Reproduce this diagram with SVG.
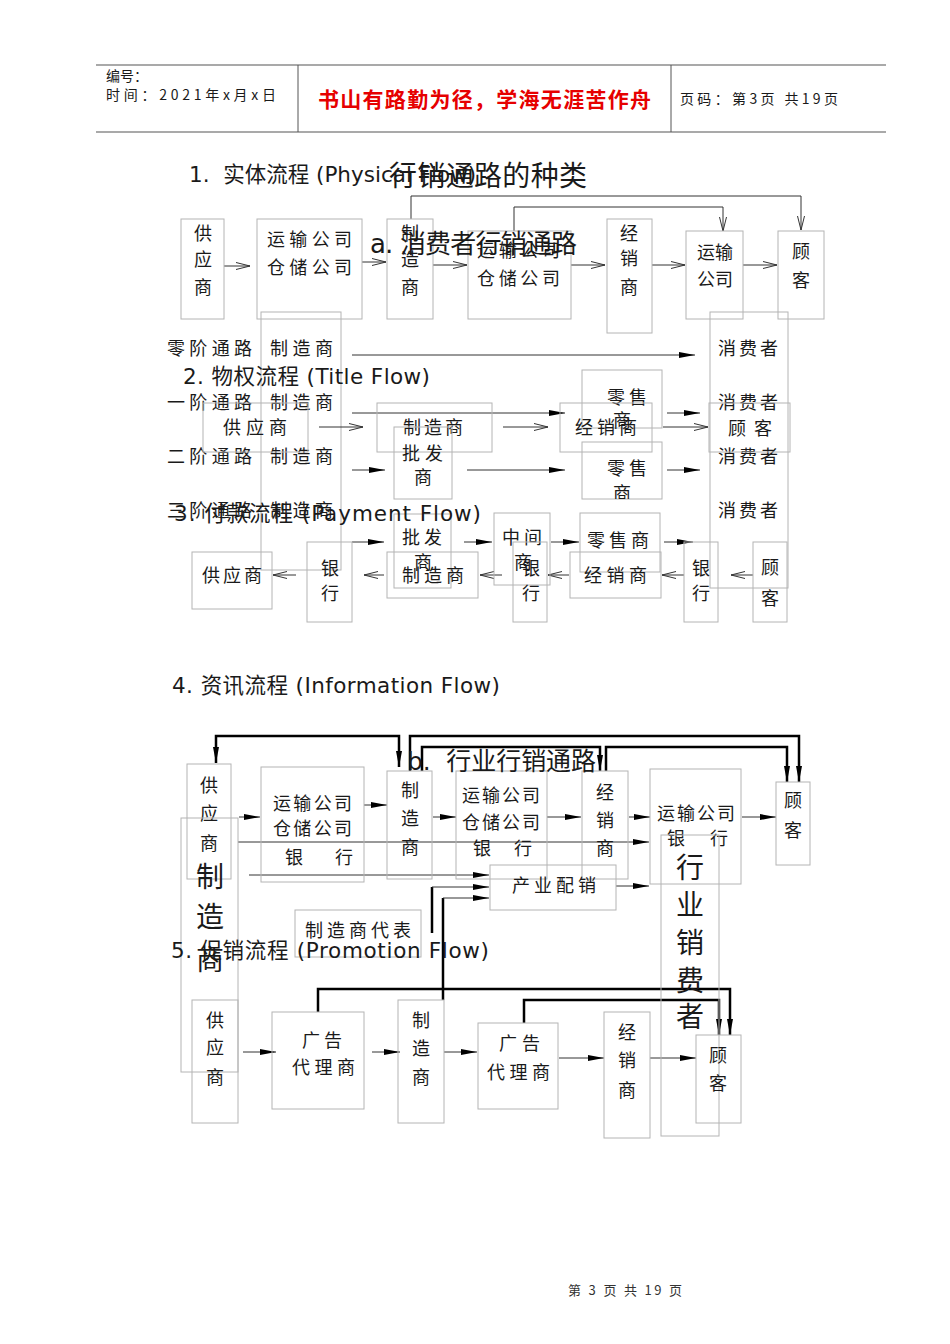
<svg xmlns="http://www.w3.org/2000/svg" width="950" height="1344" viewBox="0 0 950 1344">
<style>
.bx{fill:none;stroke:#b4b4b4;stroke-width:1}
.cj{font-family:"Noto Sans CJK SC","Noto Sans CJK JP",sans-serif;fill:#1a1a1a;font-size:18px}
.m{text-anchor:middle}
.hd{font-family:"DejaVu Sans","Noto Sans CJK SC",sans-serif;fill:#1a1a1a;font-size:21.5px}
.ln{fill:none;stroke:#333;stroke-width:1}
.tk{fill:none;stroke:#000;stroke-width:2.5}
.big{font-size:28px}
</style>
<defs>
<marker id="o" viewBox="0 0 14 8" refX="14" refY="4" markerWidth="14" markerHeight="8" markerUnits="userSpaceOnUse" orient="auto"><path d="M0,0.5 L14,4 L0,7.5" fill="none" stroke="#333" stroke-width="1"/></marker>
<marker id="f" viewBox="0 0 16 8" refX="16" refY="4" markerWidth="16" markerHeight="8" markerUnits="userSpaceOnUse" orient="auto-start-reverse"><path d="M0,1 L16,4 L0,7 Z" fill="#000"/></marker>
<clipPath id="c1"><rect x="582" y="442" width="80" height="57"/></clipPath>
</defs>
<rect width="950" height="1344" fill="#fff"/>

<g id="header">
<line x1="96" y1="65" x2="886" y2="65" stroke="#555" stroke-width="1.2"/>
<line x1="96" y1="132" x2="886" y2="132" stroke="#555" stroke-width="1.2"/>
<line x1="298" y1="65" x2="298" y2="132" stroke="#555"/>
<line x1="671" y1="65" x2="671" y2="132" stroke="#555"/>
<text x="106" y="81" class="cj" style="font-size:14px">编号：</text>
<text x="106" y="100" class="cj" style="font-size:14px" textLength="170">时间：2021年x月x日</text>
<text x="318" y="107" class="cj" style="font-size:21px;fill:#e60000;font-weight:bold" textLength="333">书山有路勤为径，学海无涯苦作舟</text>
<text x="680" y="104" class="cj" style="font-size:14px" textLength="158">页码：第3页 共19页</text>
</g>

<g id="footer"><text x="568" y="1295" class="cj" style="font-size:13px;fill:#333" textLength="114">第 3 页 共 19 页</text></g>

<g id="col-left"><rect class="bx" x="261" y="312" width="80" height="258"/></g>
<g id="col-consumer"><rect class="bx" x="710" y="312" width="78" height="276"/></g>

<g id="connectors">
<path class="ln" marker-end="url(#o)" d="M224,266 H250"/>
<path class="ln" marker-end="url(#o)" d="M362,262 H386"/>
<path class="ln" marker-end="url(#o)" d="M433,265 H467"/>
<path class="ln" marker-end="url(#o)" d="M571,265 H605"/>
<path class="ln" marker-end="url(#o)" d="M652,265 H685"/>
<path class="ln" marker-end="url(#o)" d="M743,265 H777"/>
<path class="ln" marker-end="url(#o)" d="M411,219 V196 H801 V230"/>
<path class="ln" marker-end="url(#o)" d="M514,231 V207 H723 V231"/>
<path class="ln" marker-end="url(#f)" d="M352,355 H695"/>
<path class="ln" marker-end="url(#f)" d="M352,413 H565"/>
<path class="ln" marker-end="url(#f)" d="M667,413 H700"/>
<path class="ln" marker-end="url(#f)" d="M352,470 H385"/>
<path class="ln" marker-end="url(#f)" d="M467,470 H565"/>
<path class="ln" marker-end="url(#f)" d="M667,470 H700"/>
<path class="ln" marker-end="url(#o)" d="M319,427 H363"/>
<path class="ln" marker-end="url(#o)" d="M503,427 H548"/>
<path class="ln" marker-end="url(#o)" d="M663,427 H708"/>
<path class="ln" marker-end="url(#f)" d="M352,542 H384"/>
<path class="ln" marker-end="url(#f)" d="M464,542 H492"/>
<path class="ln" marker-end="url(#f)" d="M551,542 H579"/>
<path class="ln" marker-end="url(#f)" d="M664,542 H693"/>
<path class="ln" marker-end="url(#o)" d="M296,575 H273"/>
<path class="ln" marker-end="url(#o)" d="M384,575 H364"/>
<path class="ln" marker-end="url(#o)" d="M502,575 H480"/>
<path class="ln" marker-end="url(#o)" d="M569,575 H548"/>
<path class="ln" marker-end="url(#o)" d="M684,575 H662"/>
<path class="ln" marker-end="url(#o)" d="M753,575 H731"/>
<path class="tk" marker-start="url(#f)" marker-end="url(#f)" d="M216,763 V736 H399 V767"/>
<path class="tk" marker-end="url(#f)" d="M410,771 V736 H799 V782"/>
<path class="tk" marker-end="url(#f)" d="M422,771 V747 H600 V771"/>
<path class="tk" marker-end="url(#f)" d="M606,771 V747 H787 V782"/>
<path class="ln" marker-end="url(#f)" d="M239,817 H260"/>
<path class="ln" marker-end="url(#f)" d="M364,805 H387"/>
<path class="ln" marker-end="url(#f)" d="M433,817 H456"/>
<path class="ln" marker-end="url(#f)" d="M547,817 H581"/>
<path class="ln" marker-end="url(#f)" d="M629,817 H650"/>
<path class="ln" marker-end="url(#f)" d="M742,817 H776"/>
<path class="ln" marker-end="url(#f)" d="M238,842 H649"/>
<path class="ln" marker-end="url(#f)" d="M249,875 H489"/>
<path class="tk" d="M432,933 V887"/>
<path class="ln" marker-end="url(#f)" d="M432,887 H489"/>
<path class="tk" d="M443,1000 V898"/>
<path class="ln" marker-end="url(#f)" d="M443,898 H489"/>
<path class="ln" marker-end="url(#f)" d="M616,886 H649"/>
<path class="tk" marker-end="url(#f)" d="M318,1012 V989 H730 V1035"/>
<path class="tk" marker-end="url(#f)" d="M524,1023 V1000 H719 V1035"/>
<path class="ln" marker-end="url(#f)" d="M243,1052 H276"/>
<path class="ln" marker-end="url(#f)" d="M372,1052 H400"/>
<path class="ln" marker-end="url(#f)" d="M444,1052 H477"/>
<path class="ln" marker-end="url(#f)" d="M559,1058 H604"/>
<path class="ln" marker-end="url(#f)" d="M650,1058 H696"/>
</g>

<g id="s1-supplier"><rect class="bx" x="181" y="219" width="43" height="100"/>
<text class="cj m" x="203" y="240">供</text><text class="cj m" x="203" y="266">应</text><text class="cj m" x="203" y="294">商</text></g>
<g id="s1-transport1"><rect class="bx" x="257" y="219" width="105" height="100"/>
<text class="cj" x="267" y="246" textLength="85">运输公司</text><text class="cj" x="267" y="274" textLength="85">仓储公司</text></g>
<g id="s1-maker"><rect class="bx" x="387" y="219" width="46" height="100"/>
<text class="cj m" x="410" y="240">制</text><text class="cj m" x="410" y="266">造</text><text class="cj m" x="410" y="294">商</text></g>
<g id="s1-transport2"><rect class="bx" x="468" y="231" width="103" height="88"/>
<text class="cj" x="477" y="257" textLength="83">运输公司</text><text class="cj" x="477" y="285" textLength="83">仓储公司</text></g>
<g id="s1-dealer"><rect class="bx" x="607" y="219" width="45" height="114"/>
<text class="cj m" x="629" y="240">经</text><text class="cj m" x="629" y="265">销</text><text class="cj m" x="629" y="294">商</text></g>
<g id="s1-transport3"><rect class="bx" x="686" y="231" width="57" height="88"/>
<text class="cj" x="697" y="259" textLength="36">运输</text><text class="cj" x="697" y="286" textLength="36">公司</text></g>
<g id="s1-customer"><rect class="bx" x="778" y="231" width="46" height="88"/>
<text class="cj m" x="801" y="258">顾</text><text class="cj m" x="801" y="287">客</text></g>

<g id="s2-labels">
<text class="cj" x="167" y="355" textLength="85">零阶通路</text><text class="cj" x="270" y="355" textLength="63">制造商</text>
<text class="cj" x="167" y="409" textLength="85">一阶通路</text><text class="cj" x="270" y="409" textLength="63">制造商</text>
<text class="cj" x="167" y="463" textLength="85">二阶通路</text><text class="cj" x="270" y="463" textLength="63">制造商</text>
<text class="cj" x="167" y="517" textLength="85">三阶通路</text><text class="cj" x="270" y="517" textLength="63">制造商</text>
<text class="cj" x="718" y="355" textLength="60">消费者</text>
<text class="cj" x="718" y="409" textLength="60">消费者</text>
<text class="cj" x="718" y="463" textLength="60">消费者</text>
<text class="cj" x="718" y="517" textLength="60">消费者</text>
</g>
<g id="s2-retail1"><rect class="bx" x="582" y="370" width="80" height="58"/>
<text class="cj" x="607" y="404" textLength="40">零售</text><text class="cj m" x="622" y="427">商</text></g>
<g id="s2-retail2"><rect class="bx" x="582" y="442" width="80" height="57"/>
<text class="cj" x="607" y="475" textLength="40">零售</text><text class="cj m" x="622" y="500" clip-path="url(#c1)">商</text></g>
<g id="s2-supplier"><rect class="bx" x="203" y="403" width="105" height="49"/>
<text class="cj" x="223" y="434" textLength="64">供应商</text></g>
<g id="s2-maker"><rect class="bx" x="377" y="403" width="115" height="49"/>
<text class="cj" x="403" y="434" textLength="60">制造商</text></g>
<g id="s2-wholesale"><rect class="bx" x="394" y="427" width="58" height="72"/>
<text class="cj" x="402" y="460" textLength="41">批发</text><text class="cj m" x="423" y="484">商</text></g>
<g id="s2-dealer"><rect class="bx" x="560" y="403" width="92" height="49"/>
<text class="cj" x="575" y="434" textLength="62">经销商</text></g>
<g id="s2-customer"><rect class="bx" x="709" y="403" width="81" height="49"/>
<text class="cj" x="728" y="435" textLength="44">顾客</text></g>

<g id="s3-wholesale"><rect class="bx" x="394" y="514" width="57" height="74"/>
<text class="cj" x="402" y="544" textLength="40">批发</text><text class="cj m" x="423" y="569">商</text></g>
<g id="s3-middle"><rect class="bx" x="494" y="513" width="56" height="72"/>
<text class="cj" x="502" y="544" textLength="40">中间</text><text class="cj m" x="523" y="569">商</text></g>
<g id="s3-retail"><rect class="bx" x="580" y="513" width="80" height="59"/>
<text class="cj" x="587" y="547" textLength="62">零售商</text></g>
<g id="s3-supplier"><rect class="bx" x="192" y="552" width="80" height="57"/>
<text class="cj" x="202" y="582" textLength="60">供应商</text></g>
<g id="s3-bank1"><rect class="bx" x="307" y="542" width="45" height="80"/>
<text class="cj m" x="330" y="575">银</text><text class="cj m" x="330" y="600">行</text></g>
<g id="s3-maker"><rect class="bx" x="387" y="552" width="91" height="46"/>
<text class="cj" x="402" y="582" textLength="62">制造商</text></g>
<g id="s3-bank2"><rect class="bx" x="513" y="542" width="34" height="80"/>
<text class="cj m" x="531" y="575">银</text><text class="cj m" x="531" y="600">行</text></g>
<g id="s3-dealer"><rect class="bx" x="570" y="552" width="91" height="46"/>
<text class="cj" x="584" y="582" textLength="63">经销商</text></g>
<g id="s3-bank3"><rect class="bx" x="684" y="542" width="34" height="80"/>
<text class="cj m" x="701" y="575">银</text><text class="cj m" x="701" y="600">行</text></g>
<g id="s3-customer"><rect class="bx" x="753" y="542" width="34" height="80"/>
<text class="cj m" x="770" y="574">顾</text><text class="cj m" x="770" y="605">客</text></g>

<g id="b-supplier"><rect class="bx" x="187" y="764" width="44" height="115"/>
<text class="cj m" x="209" y="792">供</text><text class="cj m" x="209" y="820">应</text><text class="cj m" x="209" y="850">商</text></g>
<g id="b-maker-tall"><rect class="bx" x="181" y="818" width="57" height="254"/>
<text class="cj m big" x="210" y="887">制</text><text class="cj m big" x="210" y="927">造</text><text class="cj m big" x="210" y="970">商</text></g>
<g id="b-transport1"><rect class="bx" x="261" y="767" width="103" height="115"/>
<text class="cj" x="273" y="810" textLength="79">运输公司</text><text class="cj" x="273" y="835" textLength="79">仓储公司</text>
<text class="cj" x="285" y="864">银</text><text class="cj" x="335" y="864">行</text></g>
<g id="b-maker"><rect class="bx" x="387" y="771" width="45" height="108"/>
<text class="cj m" x="410" y="797">制</text><text class="cj m" x="410" y="825">造</text><text class="cj m" x="410" y="854">商</text></g>
<g id="b-transport2"><rect class="bx" x="456" y="771" width="91" height="108"/>
<text class="cj" x="462" y="802" textLength="78">运输公司</text><text class="cj" x="462" y="829" textLength="78">仓储公司</text>
<text class="cj" x="473" y="855">银</text><text class="cj" x="514" y="855">行</text></g>
<g id="b-dealer"><rect class="bx" x="582" y="771" width="46" height="108"/>
<text class="cj m" x="605" y="799">经</text><text class="cj m" x="605" y="827">销</text><text class="cj m" x="605" y="855">商</text></g>
<g id="b-transport3"><rect class="bx" x="650" y="769" width="91" height="115"/>
<text class="cj" x="657" y="820" textLength="78">运输公司</text>
<text class="cj" x="667" y="845">银</text><text class="cj" x="710" y="845">行</text></g>
<g id="b-customer"><rect class="bx" x="776" y="782" width="34" height="83"/>
<text class="cj m" x="793" y="807">顾</text><text class="cj m" x="793" y="837">客</text></g>
<g id="b-industry-consumer"><rect class="bx" x="661" y="835" width="58" height="301"/>
<text class="cj m big" x="690" y="878">行</text><text class="cj m big" x="690" y="915">业</text><text class="cj m big" x="690" y="953">销</text><text class="cj m big" x="690" y="991">费</text><text class="cj m big" x="690" y="1027">者</text></g>
<g id="b-industrial"><rect class="bx" x="490" y="865" width="126" height="45"/>
<text class="cj" x="512" y="892" textLength="84">产业配销</text></g>
<g id="b-rep"><rect class="bx" x="295" y="910" width="126" height="47"/>
<text class="cj" x="305" y="937" textLength="106">制造商代表</text></g>

<g id="p-supplier"><rect class="bx" x="192" y="1000" width="46" height="123"/>
<text class="cj m" x="215" y="1027">供</text><text class="cj m" x="215" y="1054">应</text><text class="cj m" x="215" y="1084">商</text></g>
<g id="p-agency1"><rect class="bx" x="272" y="1012" width="92" height="97"/>
<text class="cj" x="302" y="1047" textLength="40">广告</text><text class="cj" x="292" y="1074" textLength="63">代理商</text></g>
<g id="p-maker"><rect class="bx" x="398" y="1000" width="46" height="123"/>
<text class="cj m" x="421" y="1027">制</text><text class="cj m" x="421" y="1055">造</text><text class="cj m" x="421" y="1084">商</text></g>
<g id="p-agency2"><rect class="bx" x="478" y="1023" width="80" height="86"/>
<text class="cj" x="499" y="1050" textLength="41">广告</text><text class="cj" x="487" y="1079" textLength="63">代理商</text></g>
<g id="p-dealer"><rect class="bx" x="604" y="1012" width="46" height="126"/>
<text class="cj m" x="627" y="1039">经</text><text class="cj m" x="627" y="1067">销</text><text class="cj m" x="627" y="1097">商</text></g>
<g id="p-customer"><rect class="bx" x="696" y="1035" width="45" height="88"/>
<text class="cj m" x="718" y="1062">顾</text><text class="cj m" x="718" y="1090">客</text></g>

<g id="headings">
<text class="hd" x="189" y="182">1.&#160; 实体流程 (Physical Flow)</text>
<text class="hd" x="389" y="186" style="font-size:28px" textLength="198">行销通路的种类</text>
<text class="hd" x="370" y="253" style="font-size:26px" textLength="207">a. 消费者行销通路</text>
<text class="hd" x="183" y="384" textLength="247">2. 物权流程 (Title Flow)</text>
<text class="hd" x="174" y="521" textLength="307">3. 付款流程 (Payment Flow)</text>
<text class="hd" x="172" y="693" textLength="328">4. 资讯流程 (Information Flow)</text>
<text class="hd" x="407" y="770" style="font-size:25px" textLength="189">b.&#160; 行业行销通路</text>
<text class="hd" x="171" y="958" textLength="318">5. 促销流程 (Promotion Flow)</text>
</g>
</svg>
